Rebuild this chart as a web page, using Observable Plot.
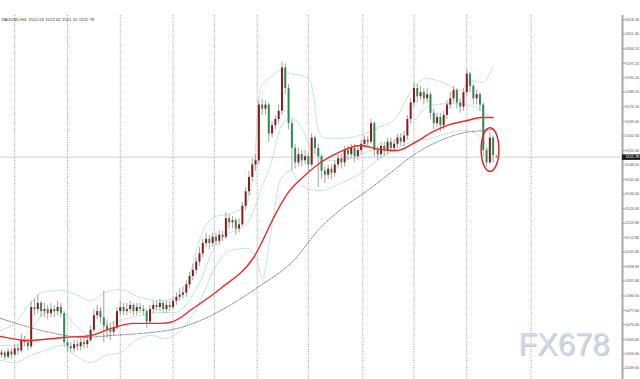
<!DOCTYPE html>
<html><head><meta charset="utf-8">
<script src="https://cdn.jsdelivr.net/npm/d3@7"></script>
<script src="https://cdn.jsdelivr.net/npm/@observablehq/plot@0.6"></script>
<style>html,body{margin:0;padding:0;background:#fff;} #chart{width:640px;height:379px;overflow:hidden;}</style>
</head><body><div id="chart"></div>
<script>
// ---- data: XAUUSD H4 candles (bar index = position in arrays) ----
const symbol = "XAUUSD,H4";
const open = [
1456,1457,1455,1457.5,1456,1459,1458,1463,1462,1460,
1479,1478,1481,1477,1478,1476,1478,1477,1479,1476,
1462,1460,1459,1461,1460,1462,1461,1463,1468,1475,
1477,1474,1470,1468,1467,1469,1477,1479,1477,1478,
1480,1477,1479,1478,1477,1472,1478,1480,1479,1481,
1478,1480,1479,1482,1484,1485,1486,1490,1494,1497,
1501,1505,1510,1512,1510,1513,1511,1514,1513,1522,
1520,1521,1517,1519,1528,1535,1542,1548,1550,1577,
1575,1577,1563,1567,1570,1574,1595,1585,1568,1556,
1549,1553,1550,1552,1548,1561,1556,1552,1545,1543,
1546,1544,1548,1551,1549,1555,1553,1556,1552,1555,
1558,1560,1559,1568,1555,1553,1557,1555,1559,1556,
1558,1561,1559,1562,1570,1578,1585,1581,1583,1580,
1582,1573,1568,1571,1567,1572,1577,1580,1584,1578,
1576,1583,1592,1586,1580,1582,1577,1555,1549,1561,
1552.03];
const close = [
1457,1455,1457.5,1456,1459,1458,1463,1462,1460,1479,
1478,1481,1477,1478,1476,1478,1477,1479,1476,1462,
1460,1459,1461,1460,1462,1461,1463,1468,1475,1477,
1474,1470,1468,1467,1469,1477,1479,1477,1478,1480,
1477,1479,1478,1477,1472,1478,1480,1479,1481,1478,
1480,1479,1482,1484,1485,1486,1490,1494,1497,1501,
1505,1510,1512,1510,1513,1511,1514,1513,1522,1520,
1521,1517,1519,1528,1535,1542,1548,1550,1577,1575,
1577,1563,1567,1570,1574,1595,1585,1568,1556,1549,
1553,1550,1552,1548,1561,1556,1552,1545,1543,1546,
1544,1548,1551,1549,1555,1553,1556,1552,1555,1558,
1560,1559,1568,1555,1553,1557,1555,1559,1556,1558,
1561,1559,1562,1570,1578,1585,1581,1583,1580,1582,
1573,1568,1571,1567,1572,1577,1580,1584,1578,1576,
1583,1592,1586,1580,1582,1577,1555,1549,1561,1552.5,
1551.78];
const high = [
1458.5,1458,1459,1459,1461,1461,1466,1465,1464,1482,
1483,1485,1482,1481,1480,1481,1480,1482,1481,1477,
1464,1462,1463,1463,1464,1464,1465,1470,1478,1480,
1479,1487,1473,1471,1472,1479,1482,1481,1481,1482,
1481,1481,1481,1480,1478,1480,1482,1482,1483,1482,
1482,1482,1484,1486,1488,1489,1492,1496,1500,1503,
1508,1512,1515,1514,1515,1515,1516,1516,1525,1524,
1523,1522,1522,1530,1537,1545,1551,1553,1579,1580,
1579,1578,1569,1572,1577,1598,1597,1587,1570,1558,
1556,1555,1555,1554,1563,1562,1558,1553,1547,1548,
1548,1550,1553,1553,1557,1557,1558,1558,1557,1560,
1562,1562,1570,1569,1557,1559,1559,1561,1561,1560,
1563,1563,1564,1572,1580,1588,1587,1586,1585,1585,
1583,1575,1573,1573,1574,1579,1583,1586,1585,1580,
1585,1594,1593,1587,1584,1583,1578,1556,1564,1562,
1552.62];
const low = [
1454.5,1453.5,1454,1454,1455,1456,1457,1460,1458,1459,
1475,1476,1474,1474,1473,1474,1474,1475,1474,1460,
1457,1457,1457,1458,1458,1459,1459,1462,1467,1473,
1471,1462,1464,1463,1465,1468,1475,1475,1475,1476,
1475,1475,1476,1475,1469,1471,1476,1477,1477,1476,
1476,1477,1478,1480,1482,1483,1484,1488,1492,1495,
1499,1503,1508,1507,1508,1509,1509,1511,1512,1517,
1517,1514,1515,1518,1526,1533,1540,1545,1548,1572,
1572,1559,1561,1565,1568,1572,1582,1565,1545,1546,
1547,1547,1548,1545,1547,1553,1537,1541,1539,1541,
1541,1542,1546,1546,1547,1550,1551,1549,1550,1553,
1556,1557,1558,1552,1550,1551,1552,1553,1554,1554,
1556,1557,1557,1560,1568,1576,1578,1579,1577,1578,
1570,1565,1566,1564,1565,1570,1575,1578,1575,1573,
1574,1581,1583,1577,1577,1574,1552,1547,1548,1549,
1551.10];

// red moving average (read at bar positions)
const redMaAt  = [-0.3,7.9,18.8,27,33,40,48.2,52,58,66.4,76.4,83.6,86.7,90.6,96.7,102.7,108.8,114.8,120,124.8,130.9,136,141.2,145.2,149];
const redMaVal = [1465.0,1463.0,1464.5,1465.4,1468.8,1471.3,1471.3,1472.2,1478.5,1488.2,1503.2,1525.9,1534.2,1541.0,1549.2,1554.5,1557.4,1555.5,1555.0,1558.4,1564.2,1567.6,1569.5,1571.0,1571.0];
// grey dotted moving average
const greyMaAt  = [-0.3,14.8,24.8,33,45.2,52,60.3,66.4,77.6,88.5,96.7,103.6,110.9,118.8,126,133,139,146,149];
const greyMaVal = [1473.7,1466.9,1464.5,1465.4,1466.9,1468.4,1472.7,1477.5,1488.7,1501.7,1517.7,1527.4,1535.6,1545.3,1554.0,1559.8,1563.2,1564.7,1565.2];
// Bollinger bands
const upperAt  = [-0.3,4.2,8.8,12.4,17.9,22.4,27,31.5,36,42,48.2,52.7,55.8,57.9,60.3,64.2,69.4,73.9,76.4,78.5,81.5,84.5,87.6,92.7,94.5,95.8,97.6,101.2,105.8,110.9,114.2,119.4,123.9,128.5,133.9,139.1,142.1,145.8,149];
const upperVal = [1467.9,1471.8,1481.4,1486.3,1487.2,1485.3,1482.4,1486.3,1487.7,1483.9,1482.4,1483.4,1487.2,1499.3,1512.9,1522.6,1524.5,1528.4,1545.3,1585.5,1590.3,1593.7,1592.3,1590.3,1582.6,1566.1,1561.3,1560.8,1561.3,1563.7,1566.1,1570.5,1583.1,1589.8,1587.9,1584.0,1588.9,1587.9,1596.1];
const midAt  = [-0.3,4.2,8.8,13.3,17.9,22.4,27,31.5,36,42.1,48.2,52.7,57.3,60.3,64.8,69.4,73.9,77,79.1,81.5,84.5,87.6,90.6,94.2,99.7,105.8,111.8,117.9,123.9,130,136.1,142.1,146.7,149];
const midVal = [1460.6,1460.6,1467.9,1476.6,1477.6,1470.3,1465.5,1470.3,1472.7,1475.1,1476.6,1476.6,1483.4,1492.1,1509.0,1515.3,1518.7,1528.4,1538.1,1547.7,1565.6,1571.0,1567.1,1555.0,1550.2,1551.1,1555.0,1558.4,1567.1,1576.8,1577.7,1576.8,1572.9,1569.5];
const lowerAt  = [-0.3,4.2,8.8,13.3,17.9,22.4,27,31.5,36,40.6,45.2,49.7,54.2,57.3,60.3,64.2,69.4,74.5,77.6,79.1,81.5,84.5,87.6,90.6,96.7,102.7,108.8,113.9,118.8,123.9,130,136.1,140.6,145.2,149];
const lowerVal = [1453.4,1452.4,1455.8,1458.2,1460.6,1455.8,1452.4,1455.8,1457.2,1463.0,1465.5,1464.0,1467.9,1473.7,1482.4,1496.9,1506.6,1507.6,1500.8,1493.1,1513.9,1540.5,1545.3,1538.1,1535.6,1539.0,1543.9,1550.2,1555.0,1558.9,1560.8,1563.7,1564.7,1561.3,1550.2];

// vertical time separators (bar positions)
const gridTimes = [4, 20, 36, 52, 64.5, 77.5, 93, 109.5, 125, 141, 160.5];
// price-axis tick labels
const yTicks = [1618.40,1611.40,1604.20,1597.20,1590.20,1583.20,1576.20,1569.00,1562.00,1555.00,1548.00,1541.00,1534.00,1526.80,1519.80,1512.80,1505.80,1498.80,1491.80,1484.60,1477.60,1470.60,1463.60,1456.60,1449.60];
// highlighted region (red ring): centre bar, centre price, half-span in bars, half-range in price
const ring = {at: 148.2, mid: 1555.2, halfSpan: 2.7, halfRange: 10.6};
const watermark = "FX678";

// ---- build ----
const bars = open.map((o, i) => ({i, open: o, high: high[i], low: low[i], close: close[i]}));
const pts = (at, val) => at.map((x, k) => ({x, y: val[k]}));
const last = bars[bars.length - 1];
const header = `${symbol}  ${last.open.toFixed(2)} ${last.high.toFixed(2)} ${last.low.toFixed(2)} ${last.close.toFixed(2)}`;
const xDomain = [-0.3, 188.2];
const yDomain = [1444.15, 1627.6];
const gridTop = 1620.3;
const bull = "#8e1b1b", bear = "#2f8a55";
const bandStyle = {stroke: "#9ad8bc", strokeWidth: 0.9, strokeDasharray: "1,1.6", curve: "monotone-x"};
const font = "'Liberation Sans', Arial, sans-serif";
const axisFont = 3.8;

const chart = Plot.plot({
  width: 640, height: 379,
  marginLeft: 0, marginRight: 18, marginTop: 0, marginBottom: 0,
  style: {background: "#fff", fontFamily: font, fontSize: "4.3px", color: "#333", overflow: "visible"},
  x: {domain: xDomain, axis: null},
  y: {domain: yDomain},
  marks: [
    Plot.ruleX(gridTimes, {y1: gridTop, y2: yDomain[0], stroke: "#858585", strokeWidth: 0.8, strokeDasharray: "1,1.3"}),
    Plot.ruleY([last.close], {stroke: "#d2d2d2", strokeWidth: 1}),
    Plot.line(pts(upperAt, upperVal), {x: "x", y: "y", ...bandStyle}),
    Plot.line(pts(midAt, midVal), {x: "x", y: "y", ...bandStyle}),
    Plot.line(pts(lowerAt, lowerVal), {x: "x", y: "y", ...bandStyle}),
    Plot.ruleX(bars, {x: "i", y1: "low", y2: "high", stroke: "#a3a3a3", strokeWidth: 1}),
    Plot.ruleX(bars, {x: "i", y1: "open", y2: "close", stroke: d => d.close >= d.open ? bull : bear, strokeWidth: 2}),
    Plot.line(pts(greyMaAt, greyMaVal), {x: "x", y: "y", stroke: "#6e6e6e", strokeWidth: 0.9, strokeDasharray: "1,1.4", curve: "monotone-x"}),
    Plot.line(pts(redMaAt, redMaVal), {x: "x", y: "y", stroke: "#f0282a", strokeWidth: 1.4, curve: "monotone-x"}),
    (index, scales) => {
      const cx = scales.x(ring.at), cy = scales.y(ring.mid);
      const rx = Math.abs(scales.x(ring.at + ring.halfSpan) - cx);
      const ry = Math.abs(scales.y(ring.mid + ring.halfRange) - cy);
      return d3.create("svg:ellipse").attr("cx", cx).attr("cy", cy).attr("rx", rx).attr("ry", ry)
        .attr("fill", "none").attr("stroke", "#e8191e").attr("stroke-width", 1.4).node();
    },
    Plot.ruleX([xDomain[1]], {y1: gridTop, y2: yDomain[0], stroke: "#a8a8a8", strokeWidth: 2}),
    Plot.axisY(yTicks, {anchor: "right", tickSize: 2.5, tickPadding: 0.5, tickFormat: d => d.toFixed(2), stroke: "#999", fill: "#555", fontSize: axisFont, label: null}),
    Plot.ruleY([last.close], {x1: xDomain[1], x2: xDomain[1] + 6, stroke: "#1c1c1c", strokeWidth: 5.5}),
    Plot.text([last.close], {x: xDomain[1], y: d => d, text: d => d.toFixed(2), textAnchor: "start", dx: 3, fill: "#fff", fontSize: axisFont}),
    Plot.text([header], {frameAnchor: "top-left", dx: 1, dy: 19, lineAnchor: "middle", textAnchor: "start", fill: "#333", fontSize: 4.3}),
    Plot.text([watermark], {frameAnchor: "bottom-right", dx: -12, dy: -24, lineAnchor: "bottom", textAnchor: "end", fontSize: 31, fontFamily: font, fill: "#dcc2a8", style: "letter-spacing:1.5px"}),
    Plot.text([watermark], {frameAnchor: "bottom-right", dx: -13, dy: -25, lineAnchor: "bottom", textAnchor: "end", fontSize: 31, fontFamily: font, fill: "#c9dcf2"})
  ]
});
document.getElementById("chart").appendChild(chart);
</script>
</body></html>
